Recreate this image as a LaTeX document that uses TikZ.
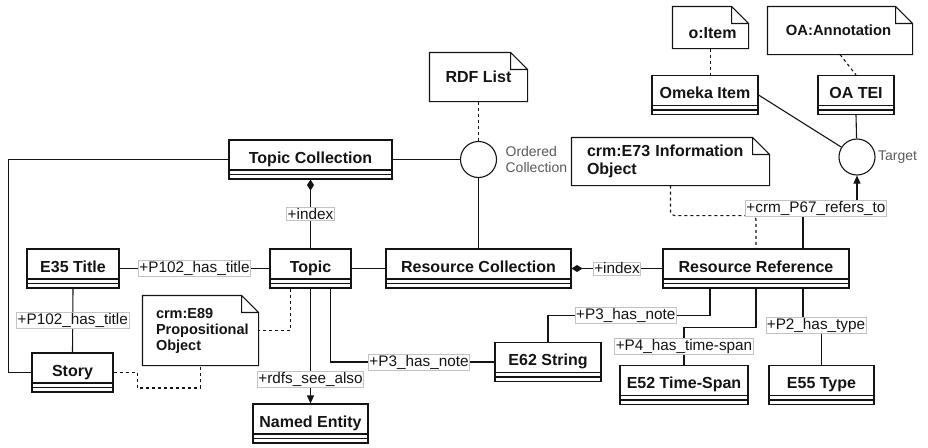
\documentclass[tikz,border=0pt]{standalone}
\usepackage{fontspec}
\setmainfont{Liberation Sans}
\usepackage{tikz}
\usetikzlibrary{positioning,arrows.meta}
\definecolor{umlink}{RGB}{20,20,20}
\definecolor{umllabel}{RGB}{195,195,195}
\definecolor{umlgray}{RGB}{90,90,90}

\begin{document}
\begin{tikzpicture}[
  x=1pt,y=-1pt,
  line width=1.1pt,umlink,
  >={Triangle[length=8pt,width=7pt]},
  cls/.style={draw,minimum height=39pt,inner xsep=0pt,inner ysep=0pt,
    text height=23pt,text depth=16pt,
    font=\bfseries\fontsize{16}{18}\selectfont,
    path picture={
      \draw ([yshift=9pt]path picture bounding box.south west) -- ([yshift=9pt]path picture bounding box.south east);
      \draw ([yshift=4.5pt]path picture bounding box.south west) -- ([yshift=4.5pt]path picture bounding box.south east);}},
  umlnote/.style={inner sep=0pt,font=\bfseries\fontsize{16}{18}\selectfont,
    append after command={\pgfextra{
      \draw (\tikzlastnode.north west) -- ([xshift=-17pt]\tikzlastnode.north east)
        -- ([yshift=-17pt]\tikzlastnode.north east) -- (\tikzlastnode.south east)
        -- (\tikzlastnode.south west) -- cycle
        ([xshift=-17pt]\tikzlastnode.north east) |- ([yshift=-17pt]\tikzlastnode.north east);}}},
  circ/.style={circle,draw,minimum size=36pt,inner sep=0pt},
  circlab/.style={font=\fontsize{14}{16.5}\selectfont,umlgray,align=left,inner sep=0pt},
  lab/.style={draw=umllabel,line width=0.6pt,fill=white,text=umlink,
    font=\fontsize{15.3}{17}\selectfont,inner sep=1pt},
  dep/.style={dash pattern=on 3pt off 3pt},
  comp/.style={arrows={Diamond[length=11pt,width=7pt]-}}
]
\useasboundingbox (0,0) rectangle (928,447);

% Classes
\node[cls,minimum width=163pt] (tcoll) at (310.5,159.5) {Topic Collection};
\node[cls,minimum width=81pt] (topic) at (310.5,268.5) {Topic};
\node[cls,minimum width=92pt] (etitle) at (73,268.5) {E35 Title};
\node[cls,minimum width=81pt] (story) at (72.5,372.5) {Story};
\node[cls,minimum width=115pt] (nentity) at (310.5,423.5) {Named Entity};
\node[cls,minimum width=185pt] (rcoll) at (478.5,268.5) {Resource Collection};
\node[cls,minimum width=186pt] (rref) at (756,268.5) {Resource Reference};
\node[cls,minimum width=106pt] (estring) at (548,362) {E62 String};
\node[cls,minimum width=128pt] (etime) at (684,385) {E52 Time-Span};
\node[cls,minimum width=105pt] (etype) at (821.5,385) {E55 Type};
\node[cls,minimum width=106pt] (omeka) at (705,95) {Omeka Item};
\node[cls,minimum width=76pt] (oatei) at (856,95) {OA TEI};

% Notes
\node[umlnote,minimum width=97pt,minimum height=48pt] (rdflist) at (478.5,77) {RDF List};
\node[umlnote,minimum width=75pt,text height=31.5pt,text depth=9.5pt] (oitem) at (710.5,27.5) {\hspace*{4pt}o:Item};
\node[umlnote,minimum width=144pt,minimum height=47pt,font=\bfseries\fontsize{14.8}{18}\selectfont] (oaann) at (840,30.5) {OA:Annotation\hspace*{3pt}};
\node[umlnote,minimum height=47pt,inner xsep=15pt,text width=167pt,align=left] (einfo) at (670.5,161.5) {crm:E73 Information\\Object};
\node[umlnote,minimum height=69pt,inner xsep=13pt,text width=89pt,align=left,
      font=\bfseries\fontsize{14.5}{16}\selectfont] (eprop) at (200.5,330.5) {crm:E89\\Propositional\\Object};

% Interfaces
\node[circ] (ordered) at (478.5,159.5) {};
\node[circlab,right=8pt of ordered] (orderedlab) {Ordered\\Collection};
\node[circ] (target) at (857,157) {};
\node[circlab,right=2pt of target] (targetlab) {Target};

% Topic side
\draw[comp] (tcoll.south) -- node[lab]{+index} (topic.north);
\draw (tcoll.east) -- (ordered);
\draw[dep] (rdflist.south) -- (ordered);
\draw (ordered) -- (rcoll.north);
\draw (tcoll.west) -- ++(-220,0) |- (story.west);
\draw (etitle.east) -- node[lab]{+P102\_has\_title} (topic.west);
\draw (etitle.south) -- node[lab]{+P102\_has\_title} (story.north);
\draw (topic.east) -- (rcoll.west);
\draw[->] (topic.south) -- node[lab,pos=0.79]{+rdfs\_see\_also} (nentity.north);
\draw ([xshift=20pt]topic.south) |- node[lab,pos=0.77]{+P3\_has\_note} (estring.west);
\draw[dep] ([xshift=-20pt]topic.south) |- (eprop.east);
\draw[dep] (story.east) -| ++(24,15.5) -| (eprop.south);

% Resource side
\draw[comp] (rcoll.east) -- node[lab]{+index} (rref.west);
\draw ([xshift=-46pt]rref.south) -- ++(0,27) -| node[lab,pos=0.26]{+P3\_has\_note} (estring.north);
\draw (rref.south) -- ++(0,39) -| node[lab,pos=0.75]{+P4\_has\_time-span} (etime.north);
\draw ([xshift=47pt]rref.south) -- ++(0,37) -| node[lab,pos=0.35]{+P2\_has\_type} (etype.north);
\draw[dep,rounded corners=4pt] (einfo.south) -- ++(0,30) -| (rref.north);
\draw[->] ([xshift=47pt]rref.north) -- ++(0,-40) -| node[lab,pos=0.12]{+crm\_P67\_refers\_to} (target.south);

% Target side
\draw (omeka.east) -- (target);
\draw (oatei.south) -- (target);
\draw[dep] (oitem.south) -- (oitem.south |- omeka.north);
\draw[dep] (oaann.south) -- (oatei.north);

\end{tikzpicture}
\end{document}
